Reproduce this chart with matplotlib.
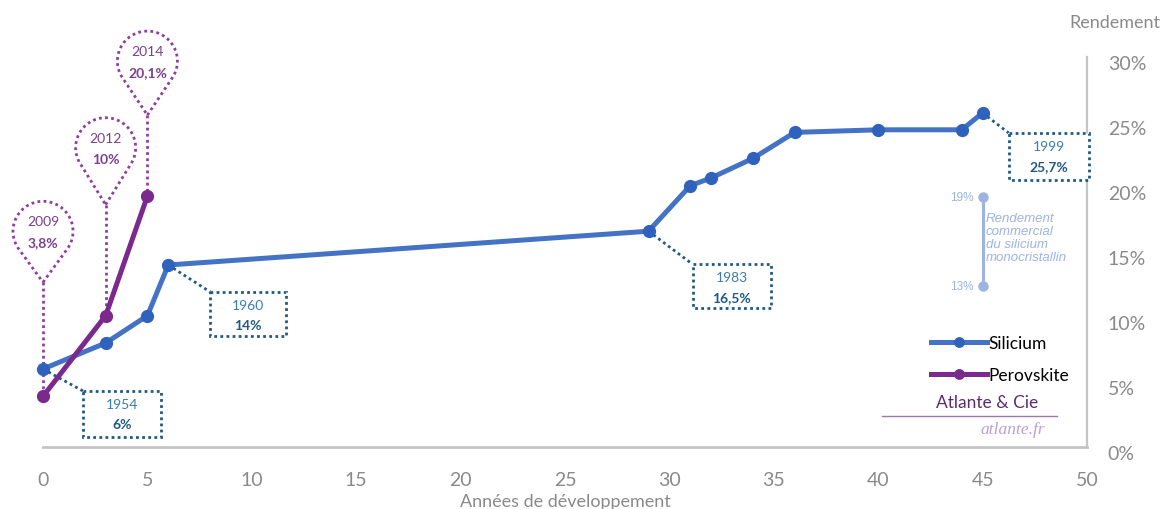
import numpy as np
import matplotlib
matplotlib.use('Agg')
import matplotlib.pyplot as plt
import matplotlib.transforms as mtransforms
from matplotlib.patches import Rectangle

# ---------------- data ----------------
si_years = [0, 3, 5, 6, 29, 31, 32, 34, 36, 40, 44, 45]
si_eff = [6.0, 8.0, 10.1, 14.0, 16.6, 20.1, 20.7, 22.2, 24.2, 24.4, 24.4, 25.7]
pv_years = [0, 3, 5]
pv_eff = [3.9, 10.1, 19.3]

si_callout_idx = [0, 3, 4, 11]
si_callout_year = ['1954', '1960', '1983', '1999']
si_callout_val = ['6%', '14%', '16,5%', '25,7%']
pv_callout_year = ['2009', '2012', '2014']
pv_callout_val = ['3,8%', '10%', '20,1%']

commercial_x = 45
commercial_range = [12.4, 19.2]
commercial_labels = ['13%', '19%']
commercial_text = 'Rendement\ncommercial\ndu silicium\nmonocristallin'

xticks = list(range(0, 51, 5))
yticks = list(range(0, 31, 5))
ytick_labels = [f'{v}%' for v in yticks]
series_names = ['Silicium', 'Perovskite']

# ---------------- style ----------------
plt.rcParams['font.family'] = ['Lato', 'DejaVu Sans']
SI_LINE = '#4472c4'
SI_MARK = '#2f62bd'
PV_LINE = '#7a2a8c'
PV_MARK = '#7a2a8c'
GRAY = '#8a8a8a'
BOX_EDGE = '#1f5a85'
BOX_YEAR = '#3a7cb0'
BOX_VAL = '#1f5a85'
PIN = '#8e3e9e'
PIN_TXT = '#7b3f8f'
COMM = '#9db3e0'
DOT = (0, (1, 1.2))

W, H = 1164, 510
fig = plt.figure(figsize=(W / 100, H / 100), dpi=100)
ax = fig.add_axes([43 / W, 62 / H, (1087 - 43) / W, (448 - 58) / H])
ax.set_xlim(0, 50)
ax.set_ylim(0, 30)

for s in ['top', 'left']:
    ax.spines[s].set_visible(False)
ax.spines['right'].set_color('#c4c4c4')
ax.spines['right'].set_linewidth(1.6)
ax.spines['bottom'].set_color('#c4c4c4')
ax.spines['bottom'].set_linewidth(2)

ax.set_xticks(xticks)
ax.set_xticklabels([str(t) for t in xticks])
ax.set_yticks(yticks)
ax.set_yticklabels(ytick_labels)
ax.yaxis.tick_right()
ax.tick_params(axis='y', length=0, pad=15, labelsize=14, labelcolor=GRAY)
ax.tick_params(axis='x', length=0, pad=17, labelsize=14, labelcolor=GRAY)
shift = mtransforms.ScaledTranslation(0, -5 / 100, fig.dpi_scale_trans)
for lab in ax.get_yticklabels():
    lab.set_transform(lab.get_transform() + shift)

fig.text(565 / W, 1 - 502 / H, 'Années de développement', ha='center', va='center',
         fontsize=13, color=GRAY)
fig.text(1160 / W, 1 - 23 / H, 'Rendement', ha='right', va='center',
         fontsize=13, color=GRAY)

# ---------------- series ----------------
si_line, = ax.plot(si_years, si_eff, color=SI_LINE, lw=3.6, marker='o', ms=8.5,
                   mfc=SI_MARK, mec=SI_MARK, clip_on=False, zorder=5,
                   solid_joinstyle='round')
pv_line, = ax.plot(pv_years, pv_eff, color=PV_LINE, lw=3.6, marker='o', ms=8.5,
                   mfc=PV_MARK, mec=PV_MARK, clip_on=False, zorder=6,
                   solid_joinstyle='round')


def off(x, y):
    """pixel offsets (y downward) anchored at data point (x, y)"""
    return mtransforms.Affine2D().scale(1, -1) + mtransforms.ScaledTranslation(x, y, ax.transData)


# ---------------- silicium callout boxes ----------------
box_geom = [(40, 22, 78, 46), (42, 27, 76, 44), (44, 33, 78, 44), (26, 20, 80, 47)]
for i, idx, yr, val in zip(range(4), si_callout_idx, si_callout_year, si_callout_val):
    x, y = si_years[idx], si_eff[idx]
    dx, dy, w, h = box_geom[i]
    t = off(x, y)
    ax.add_patch(Rectangle((dx, dy), w, h, transform=t, fill=True, facecolor='white',
                           edgecolor=BOX_EDGE, lw=2, ls=DOT, clip_on=False, zorder=3))
    ax.plot([0, dx], [0, dy], transform=t, color=BOX_EDGE, lw=2, ls=DOT,
            clip_on=False, zorder=2)
    ax.text(dx + w / 2, dy + 13, yr, transform=t, ha='center', va='center',
            fontsize=10, color=BOX_YEAR, zorder=4)
    ax.text(dx + w / 2, dy + 33, val, transform=t, ha='center', va='center',
            fontsize=10, color=BOX_VAL, fontweight='bold', zorder=4)

# ---------------- perovskite balloons ----------------
balloon_geom = [(-165, -114), (-168, -111), (-135, -81)]
r = 30
for i in range(3):
    x, y = pv_years[i], pv_eff[i]
    cy, ty = balloon_geom[i]
    hgt = ty - cy
    phi = np.degrees(np.arccos(r / hgt))
    ang = np.radians(np.linspace(-90 + phi, 270 - phi, 80))
    xs = np.concatenate([[0], r * np.cos(ang), [0]])
    ys = np.concatenate([[ty], cy - r * np.sin(ang), [ty]])
    t = off(x, y)
    ax.plot(xs, ys, transform=t, color=PIN, lw=2, ls=DOT, clip_on=False, zorder=3)
    ax.plot([0, 0], [ty, 0], transform=t, color=PIN, lw=2, ls=DOT, clip_on=False, zorder=2)
    ax.text(0, cy - 10, pv_callout_year[i], transform=t, ha='center', va='center',
            fontsize=10, color=PIN_TXT, zorder=4)
    ax.text(0, cy + 11, pv_callout_val[i], transform=t, ha='center', va='center',
            fontsize=10, color=PIN_TXT, fontweight='bold', zorder=4)

# ---------------- commercial range ----------------
ax.plot([commercial_x, commercial_x], commercial_range, color=COMM, lw=2.2,
        marker='o', ms=6.5, clip_on=False, zorder=3)
for v, lab in zip(commercial_range, commercial_labels):
    ax.annotate(lab, (commercial_x, v), xytext=(-9, 0), textcoords='offset pixels',
                ha='right', va='center', fontsize=8.5, color=COMM,
                family=['Liberation Sans', 'DejaVu Sans'])
ax.annotate(commercial_text, (commercial_x, commercial_range[1]), xytext=(3, -15),
            textcoords='offset pixels', ha='left', va='top', fontsize=9.5,
            color=COMM, style='italic', linespacing=1.1,
            family=['Liberation Sans', 'DejaVu Sans'])

# ---------------- legend & credits ----------------
ax.legend([si_line, pv_line], series_names, loc='upper left',
          bbox_to_anchor=(931 / W, 1 - 336 / H), bbox_transform=fig.transFigure,
          frameon=False, borderpad=0, borderaxespad=0, handlelength=3.2,
          handletextpad=0.1, labelspacing=0.95, numpoints=1, fontsize=12.5,
          markerscale=0.8)
fig.text(987 / W, 1 - 403 / H, 'Atlante & Cie', ha='center', va='center',
         fontsize=12.5, color='#5a2d6e')
fig.add_artist(plt.Line2D([882 / W, 1057 / W], [1 - 417 / H, 1 - 417 / H],
                          transform=fig.transFigure, color='#9a7aa8', lw=1))
fig.text(1013 / W, 1 - 430 / H, 'atlante.fr', ha='center', va='center',
         fontsize=12.5, color='#b9a0d6', style='italic',
         family=['Liberation Serif', 'DejaVu Serif'])

fig.savefig('out.png', dpi=100)
